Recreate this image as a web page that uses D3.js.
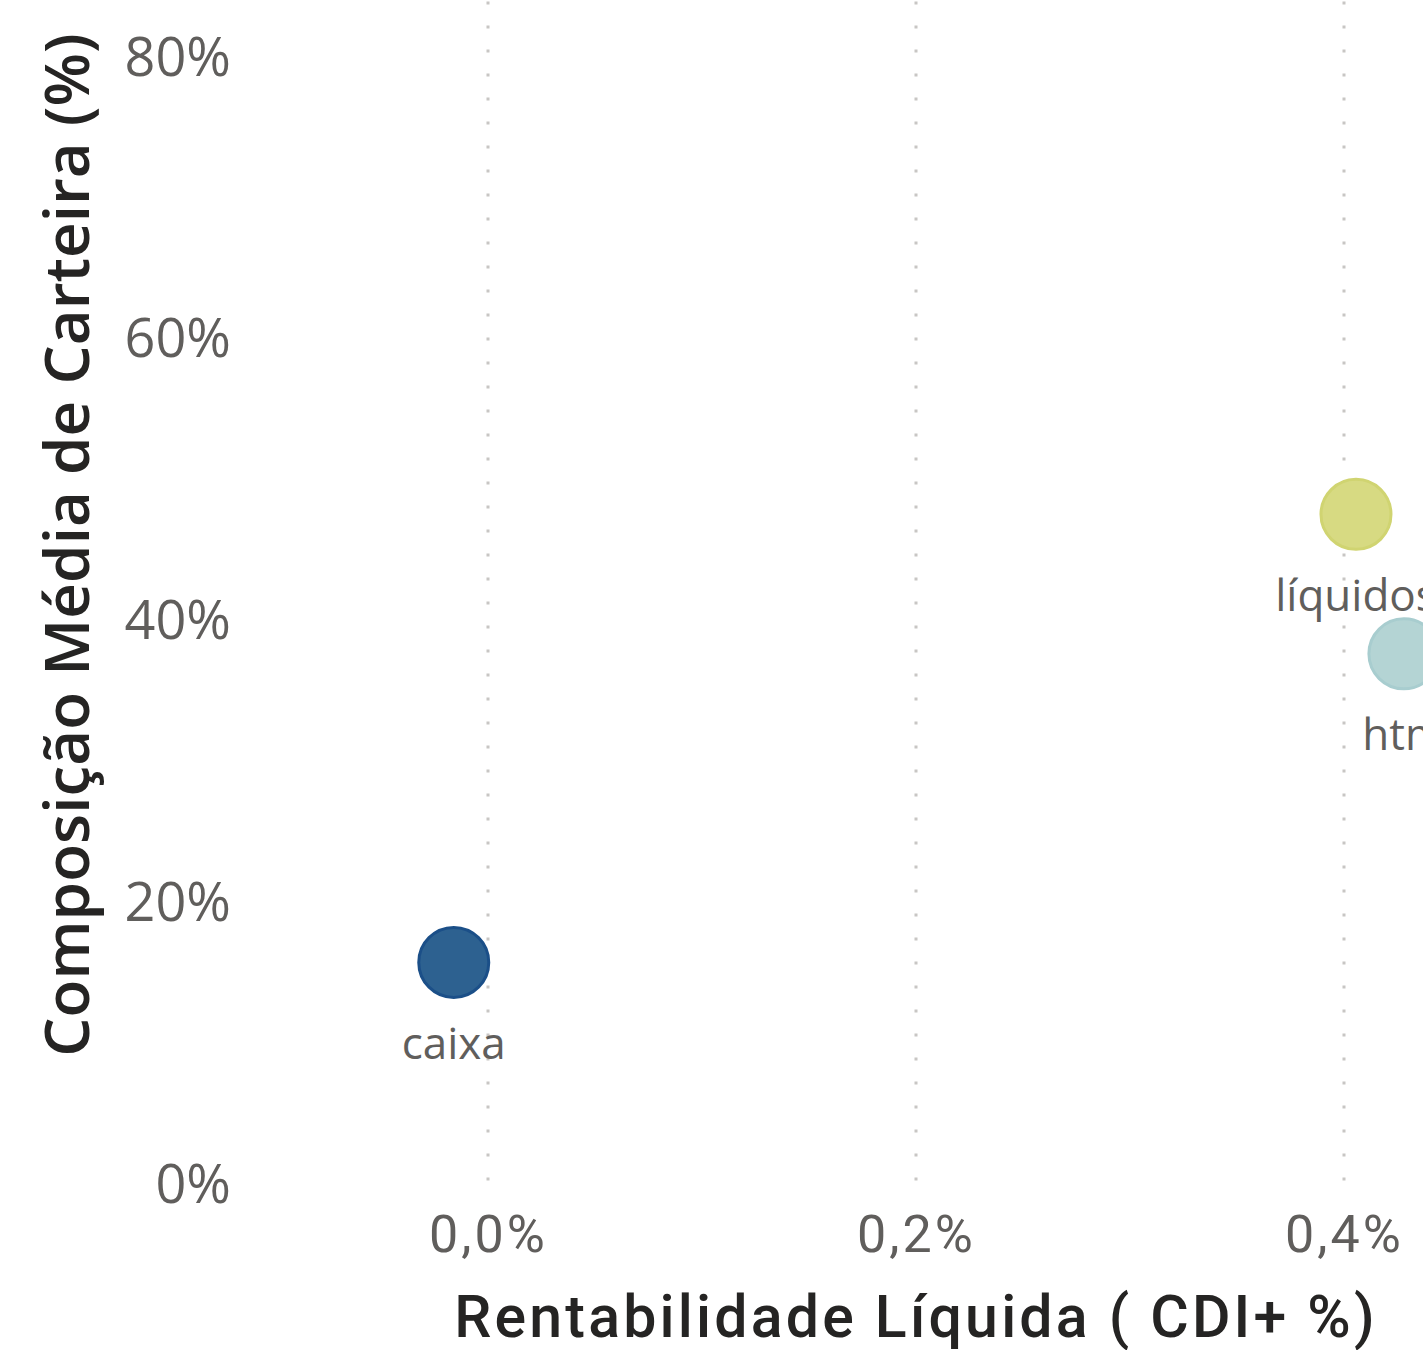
<!DOCTYPE html>
<html>
<head>
<meta charset="utf-8">
<script src="https://cdn.jsdelivr.net/npm/d3@7"></script>
<style>
  body { margin: 0; background: #fff; }
  svg { display: block; }
</style>
</head>
<body>
<div id="chart"></div>
<script>
// data
var categories = ["caixa", "líquidos", "htm"];
var rentabilidade = [-0.016, 0.4056, 0.428];   // CDI+ %
var composicao = [15.8, 47.6, 37.7];            // % da carteira
var fillColors = ["#2D6190", "#D7DA82", "#B4D4D4"];
var strokeColors = ["#1B4F88", "#D0D471", "#A8CDCF"];
var xTicks = [0, 0.2, 0.4];
var yTicks = [0, 20, 40, 60, 80];

var svgwidth = 1423,
    svgheight = 1350;

var svg = d3.select("#chart")
    .append("svg")
    .attr("width", svgwidth)
    .attr("height", svgheight);

var x = d3.scaleLinear().domain([-0.1, 0.6]).range([274, 1772]),
    y = d3.scaleLinear().domain([0, 84]).range([1185, 1.5]);

var fmtX = function(d) { return d3.format(".1f")(d).replace(".", ",") + "%"; };

// vertical dotted gridlines
svg.append("g")
  .selectAll("line")
  .data(xTicks)
  .enter().append("line")
    .attr("x1", function(d) { return x(d); })
    .attr("x2", function(d) { return x(d); })
    .attr("y1", y(84))
    .attr("y2", y(0))
    .attr("stroke", "#C8C6C4")
    .attr("stroke-width", 3)
    .attr("stroke-dasharray", "3,21");

// y tick labels
var yAxis = svg.append("g")
    .attr("transform", "translate(231,0)")
    .call(d3.axisLeft(y).tickValues(yTicks).tickSize(0).tickPadding(0)
      .tickFormat(function(d) { return d + "%"; }));
yAxis.select(".domain").remove();
yAxis.selectAll("text")
    .attr("fill", "#605E5C")
    .style("font", "54px 'Open Sans', sans-serif");

// x tick labels
var xAxis = svg.append("g")
    .attr("transform", "translate(0,1215)")
    .call(d3.axisBottom(x).tickValues(xTicks).tickSize(0).tickPadding(0)
      .tickFormat(fmtX));
xAxis.select(".domain").remove();
xAxis.selectAll("text")
    .attr("fill", "#605E5C")
    .style("font", "52px Roboto, sans-serif")
    .style("letter-spacing", "3px");

// axis titles
svg.append("text")
    .attr("x", x(0.2))
    .attr("y", 1337)
    .attr("text-anchor", "middle")
    .attr("fill", "#252423")
    .style("font", "500 59px Roboto, sans-serif")
    .style("letter-spacing", "3.2px")
    .text("Rentabilidade Líquida ( CDI+ %)");

svg.append("text")
    .attr("transform", "translate(89,545) rotate(-90)")
    .attr("text-anchor", "middle")
    .attr("fill", "#252423")
    .style("font", "600 62px 'Open Sans', sans-serif")
    .text("Composição Média de Carteira (%)");

// points
var points = categories.map(function(c, i) {
  return {name: c, x: rentabilidade[i], y: composicao[i], fill: fillColors[i], stroke: strokeColors[i]};
});

var pt = svg.append("g")
  .selectAll(".pt")
  .data(points)
  .enter().append("g")
    .attr("class", "pt")
    .attr("transform", function(d) { return "translate(" + x(d.x) + "," + y(d.y) + ")"; });

pt.append("circle")
    .attr("r", 35)
    .attr("fill", function(d) { return d.fill; })
    .attr("stroke", function(d) { return d.stroke; })
    .attr("stroke-width", 3);

pt.append("text")
    .attr("y", 81)
    .attr("dy", "0.35em")
    .attr("text-anchor", "middle")
    .attr("fill", "#605E5C")
    .style("font", "44px 'Open Sans', sans-serif")
    .text(function(d) { return d.name; });
</script>
</body>
</html>
